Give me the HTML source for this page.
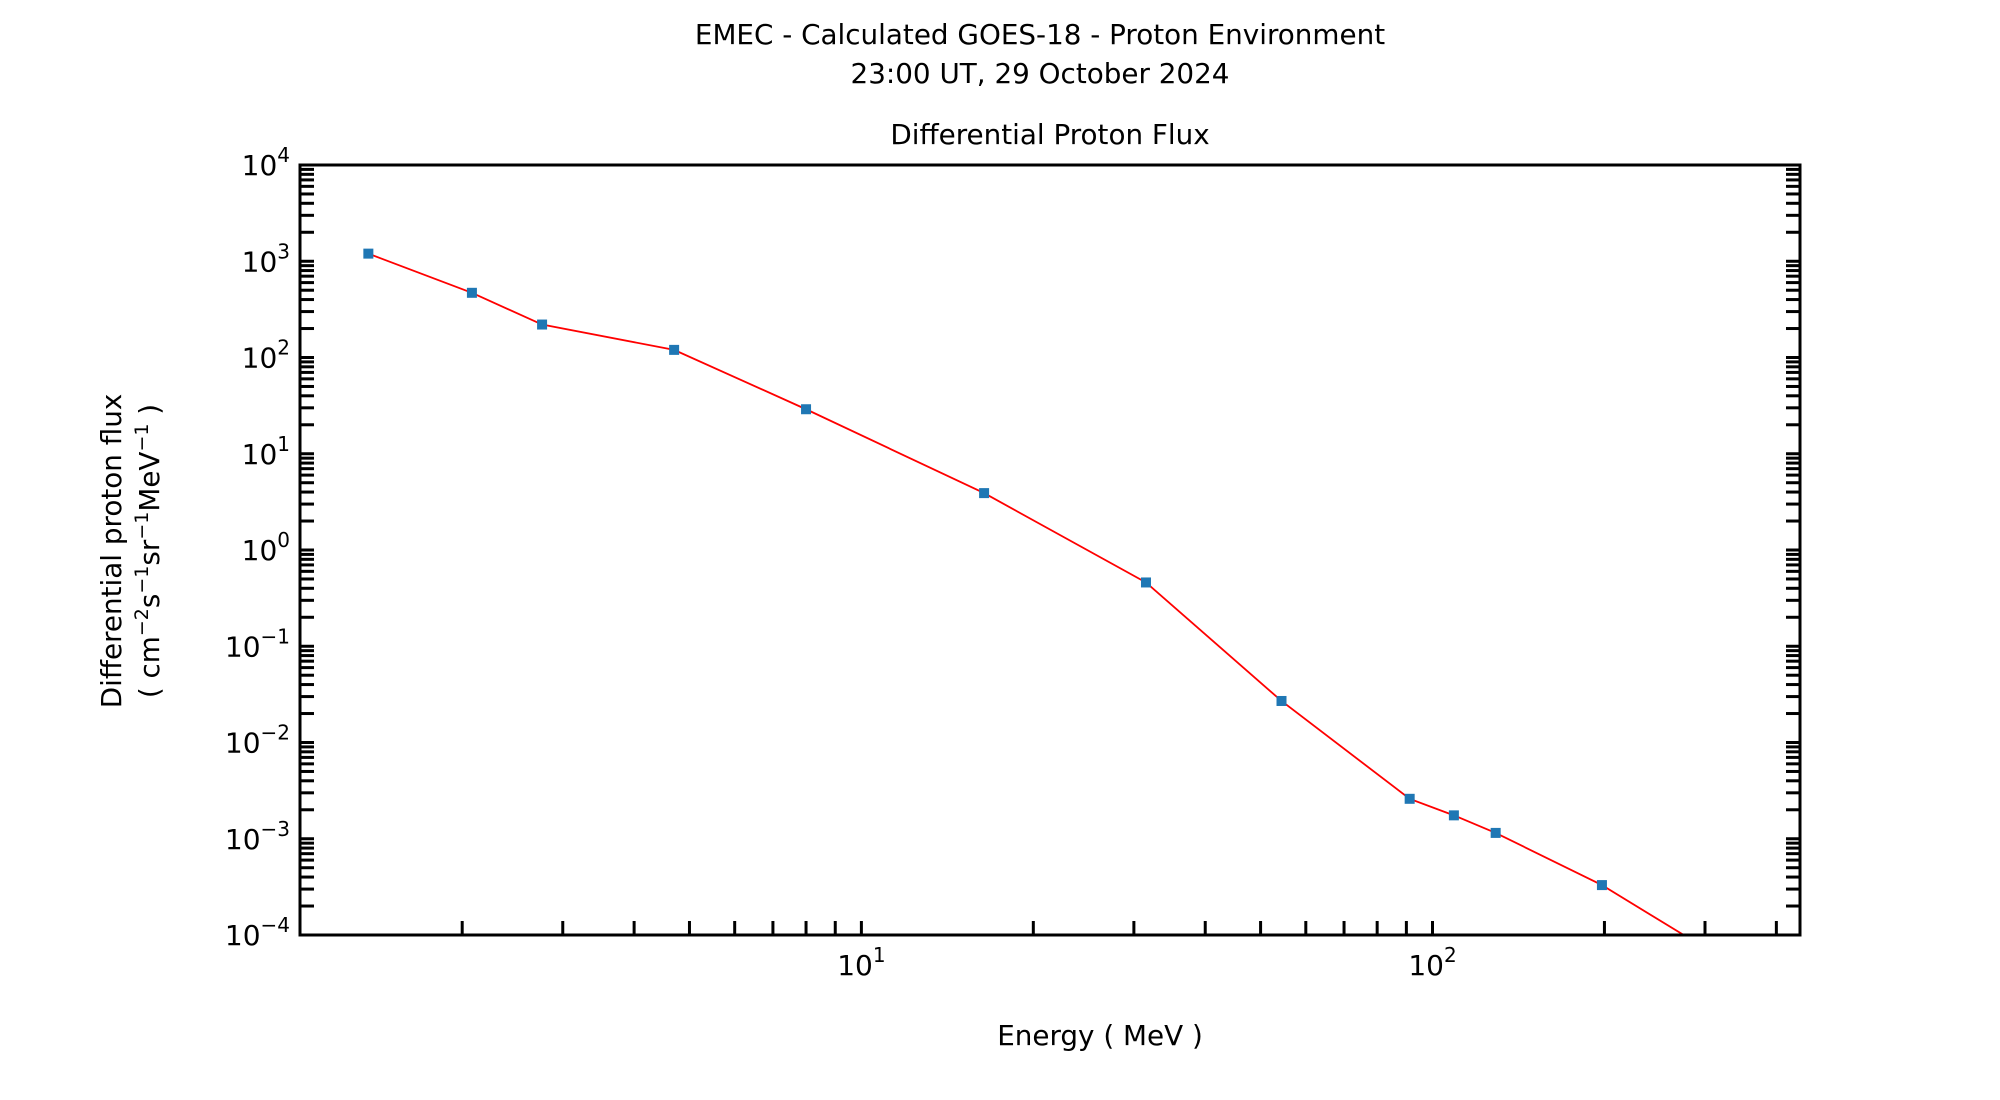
<!DOCTYPE html>
<html><head><meta charset="utf-8"><style>
html,body{margin:0;padding:0;background:#fff;}
svg{display:block;font-family:"DejaVu Sans","Liberation Sans",sans-serif;}
</style></head><body>
<svg id="chart" width="2000" height="1100" viewBox="0 0 2000 1100">
<text x="1040" y="44" font-size="27.8" text-anchor="middle">EMEC - Calculated GOES-18 - Proton Environment</text>
<text x="1040" y="83" font-size="27.8" text-anchor="middle">23:00 UT, 29 October 2024</text>
<text x="1050" y="144" font-size="27.8" text-anchor="middle">Differential Proton Flux</text>
<text x="1100" y="1045" font-size="27.8" text-anchor="middle">Energy ( MeV )</text>
<g transform="translate(121,551) rotate(-90)">
<text x="0" y="0" font-size="27.8" text-anchor="middle">Differential proton flux</text>
<text x="0" y="38" font-size="27.8" text-anchor="middle">( cm<tspan dy="-11" font-size="19">−2</tspan><tspan dy="11">s</tspan><tspan dy="-11" font-size="19">−1</tspan><tspan dy="11">sr</tspan><tspan dy="-11" font-size="19">−1</tspan><tspan dy="11">MeV</tspan><tspan dy="-11" font-size="19">−1</tspan><tspan dy="11"> )</tspan></text>
</g>
<g id="plot"></g>
</svg>
<script>
const energies = [1.37, 2.08, 2.76, 4.70, 8.0, 16.4, 31.5, 54.4, 91.2, 109, 129, 198, 520];
const fluxes = [1200, 470, 220, 120, 29, 3.9, 0.46, 0.027, 0.0026, 0.00175, 0.00115, 0.00033, 0.00001];
const yTickExps = [4, 3, 2, 1, 0, -1, -2, -3, -4];
const xTickExps = [1, 2];

const L = 300, R = 1800, T = 165, B = 935;
const xMin = Math.log10(1.04), xMax = Math.log10(440);
const yMin = -4, yMax = 4;
const NS = 'http://www.w3.org/2000/svg';
function xs(v){ return L + (Math.log10(v) - xMin) / (xMax - xMin) * (R - L); }
function ys(v){ return B - (Math.log10(v) - yMin) / (yMax - yMin) * (B - T); }
const plot = document.getElementById('plot');
function mk(tag, attrs){ const e = document.createElementNS(NS, tag); for (const k in attrs) e.setAttribute(k, attrs[k]); plot.appendChild(e); return e; }

const defs = mk('defs', {});
const cp = document.createElementNS(NS, 'clipPath'); cp.setAttribute('id', 'clip');
const cr = document.createElementNS(NS, 'rect');
cr.setAttribute('x', L); cr.setAttribute('y', T); cr.setAttribute('width', R - L); cr.setAttribute('height', B - T);
cp.appendChild(cr); defs.appendChild(cp);

for (let e = yMin; e <= yMax; e++) {
  for (let m = 1; m <= 9; m++) {
    if (e === yMax && m > 1) break;
    const v = m * Math.pow(10, e);
    const y = ys(v);
    const t1 = mk('line', {x1: L, x2: L + 14, y1: y, y2: y, stroke: '#000', 'stroke-width': 3});
    
    
    const t2 = mk('line', {x1: R - 14, x2: R, y1: y, y2: y, stroke: '#000', 'stroke-width': 3});
    
    
  }
}
yTickExps.forEach(e => {
  const y = ys(Math.pow(10, e));
  const t = mk('text', {x: 290, y: y + 10, 'font-size': 28, 'text-anchor': 'end'});
  
  
  t.innerHTML = '10<tspan dy="-13" font-size="20">' + (e < 0 ? '−' + (-e) : e) + '</tspan>';
});

for (let e = 0; e <= 2; e++) {
  for (let m = 1; m <= 9; m++) {
    const v = m * Math.pow(10, e);
    const lv = Math.log10(v);
    if (lv <= xMin || lv >= xMax) continue;
    const x = xs(v);
    const t = mk('line', {x1: x, x2: x, y1: B - 14, y2: B, stroke: '#000', 'stroke-width': 3});
    
    
  }
}
xTickExps.forEach(e => {
  const x = xs(Math.pow(10, e));
  const t = mk('text', {x: x, y: 975, 'font-size': 28, 'text-anchor': 'middle'});
  
  
  t.innerHTML = '10<tspan dy="-13" font-size="20">' + e + '</tspan>';
});

const pts = energies.map((v, i) => xs(v) + ',' + ys(fluxes[i])).join(' ');
const line = mk('polyline', {points: pts, fill: 'none', stroke: '#ff0000', 'stroke-width': 1.8, 'clip-path': 'url(#clip)'});


energies.forEach((v, i) => {
  const x = xs(v), y = ys(fluxes[i]);
  if (x < L || x > R || y < T || y > B) return;
  const r = mk('rect', {x: x - 5, y: y - 5, width: 10, height: 10, fill: '#1f77b4'});
  
  
});

const f = mk('rect', {x: L, y: T, width: R - L, height: B - T, fill: 'none', stroke: '#000', 'stroke-width': 3});


</script>
</body></html>
